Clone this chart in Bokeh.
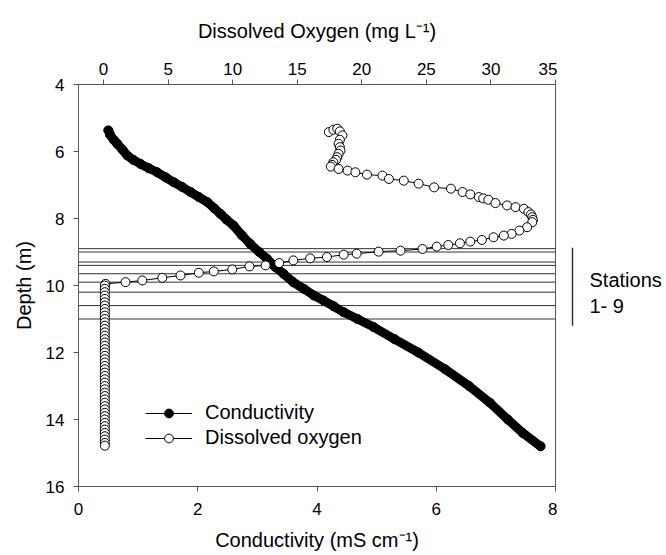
from bokeh.plotting import figure
from bokeh.models import (Range1d, LinearAxis, FixedTicker, Span, Legend,
                          LegendItem, ColumnDataSource)
from bokeh.layouts import row
from bokeh.embed import file_html
from bokeh.resources import INLINE
from bokeh.core.properties import value

# ---------------- data ----------------
cond_depth = [5.37, 5.50, 5.65, 5.77, 5.95, 6.12, 6.25, 6.37, 6.50, 6.62, 6.77,
              6.92, 7.06, 7.21, 7.36, 7.51, 7.70, 7.86, 8.03, 8.21, 8.50, 8.76,
              9.00, 9.20, 9.45, 9.65, 9.90, 10.10, 10.30, 10.45, 10.62, 10.80,
              11.00, 11.24, 11.60, 12.00, 12.50, 13.00, 13.50, 14.00, 14.40, 14.80]
cond_value = [0.50, 0.53, 0.59, 0.65, 0.74, 0.82, 0.92, 1.04, 1.18, 1.32, 1.46,
              1.60, 1.74, 1.88, 2.02, 2.16, 2.28, 2.38, 2.48, 2.60, 2.74, 2.88,
              3.03, 3.16, 3.30, 3.44, 3.60, 3.78, 3.95, 4.11, 4.28, 4.45,
              4.68, 4.95, 5.30, 5.70, 6.15, 6.55, 6.90, 7.20, 7.45, 7.75]

do_depth = [5.42, 5.35, 5.32, 5.40, 5.52, 5.65, 5.77, 5.87, 5.97, 6.07, 6.17,
            6.25, 6.32, 6.40, 6.45, 6.52, 6.57, 6.62, 6.69, 6.72, 6.82, 6.87,
            6.96, 7.07, 7.11, 7.21, 7.28, 7.36, 7.40, 7.44, 7.54, 7.61, 7.66,
            7.71, 7.81, 7.88, 7.96, 8.04, 8.11, 8.26, 8.36, 8.46, 8.51, 8.56,
            8.64, 8.69, 8.74, 8.79, 8.84, 8.91, 8.96, 8.99, 9.05, 9.08, 9.15,
            9.19, 9.25, 9.33, 9.40, 9.43, 9.52, 9.58, 9.62, 9.70, 9.77, 9.85,
            9.90, 9.95,
            10.0, 10.1, 10.2, 10.3, 10.4, 10.5, 10.6, 10.7, 10.8, 10.9,
            11.0, 11.1, 11.2, 11.3, 11.4, 11.5, 11.6, 11.7, 11.8, 11.9,
            12.0, 12.1, 12.2, 12.3, 12.4, 12.5, 12.6, 12.7, 12.8, 12.9,
            13.0, 13.1, 13.2, 13.3, 13.4, 13.5, 13.6, 13.7, 13.8, 13.9,
            14.0, 14.1, 14.2, 14.3, 14.4, 14.5, 14.6, 14.7, 14.78]
do_value = [17.45, 17.8, 18.1, 18.3, 18.5, 18.3, 18.2, 18.3, 18.35, 18.2, 18.1,
            18.0, 17.8, 17.7, 17.6, 18.2, 18.9, 19.5, 20.4, 21.6, 22.1, 23.25,
            24.4, 25.6, 26.9, 27.8, 28.4, 29.06, 29.4, 29.8, 30.35, 31.25, 31.9,
            32.55, 32.9, 33.1, 33.2, 33.25, 33.2, 32.8, 32.2, 31.6, 31.0, 30.2,
            29.3, 28.4, 27.6, 26.7, 25.8, 24.7, 23.0, 21.3, 19.6, 18.6, 17.3,
            16.0, 14.7, 13.6, 12.55, 11.3, 9.97, 8.54, 7.38, 5.96, 4.55, 3.0,
            1.7, 0.15,
            0.1, 0.1, 0.1, 0.1, 0.1, 0.1, 0.1, 0.1, 0.1, 0.1,
            0.1, 0.1, 0.1, 0.1, 0.1, 0.1, 0.1, 0.1, 0.1, 0.1,
            0.1, 0.1, 0.1, 0.1, 0.1, 0.1, 0.1, 0.1, 0.1, 0.1,
            0.1, 0.1, 0.1, 0.1, 0.1, 0.1, 0.1, 0.1, 0.1, 0.1,
            0.1, 0.1, 0.1, 0.1, 0.1, 0.1, 0.1, 0.1, 0.1]

station_depths = [8.9, 9.0, 9.3, 9.4, 9.65, 9.9, 10.2, 10.6, 11.0]
station_text = ["Stations", "1- 9"]

cond_ticks = [0, 2, 4, 6, 8]
do_ticks = [0, 5, 10, 15, 20, 25, 30, 35]
depth_ticks = [4, 6, 8, 10, 12, 14, 16]

FONT = "Liberation Sans"
AX = "#555555"

# ---------------- main figure ----------------
y_range = Range1d(16, 4)
p = figure(width=557, height=555, x_range=Range1d(0, 8), y_range=y_range,
           output_backend="svg", toolbar_location=None,
           min_border_left=78, min_border_right=2, min_border_top=84,
           min_border_bottom=69)
p.extra_x_ranges = {"do": Range1d(-1.94, 35)}
p.grid.visible = False
p.outline_line_color = AX
p.outline_line_width = 1
p.background_fill_color = "white"
p.border_fill_color = "white"

bottom_axis = p.below[0]
left_axis = p.left[0]
top_axis = LinearAxis(x_range_name="do")
p.add_layout(top_axis, "above")

bottom_axis.ticker = FixedTicker(ticks=cond_ticks)
bottom_axis.axis_label = "Conductivity (mS cm⁻¹)"
top_axis.ticker = FixedTicker(ticks=do_ticks)
top_axis.axis_label = "Dissolved Oxygen (mg L⁻¹)"
left_axis.ticker = FixedTicker(ticks=depth_ticks)
left_axis.axis_label = "Depth (m)"

for ax in (bottom_axis, left_axis, top_axis):
    ax.axis_line_color = AX
    ax.axis_line_width = 1
    ax.major_tick_line_color = AX
    ax.major_tick_out = 5
    ax.major_tick_in = 0
    ax.minor_tick_out = 0
    ax.minor_tick_in = 0
    ax.major_label_text_font = FONT
    ax.major_label_text_font_size = "17px"
    ax.major_label_text_color = "black"
    ax.axis_label_text_font = FONT
    ax.axis_label_text_font_size = "20px"
    ax.axis_label_text_font_style = "normal"
    ax.axis_label_text_color = "black"

top_axis.major_label_standoff = 5
top_axis.axis_label_standoff = 18
bottom_axis.major_label_standoff = 11
bottom_axis.axis_label_standoff = 11
left_axis.major_label_standoff = 9
left_axis.axis_label_standoff = 8

# station lines
for d in station_depths:
    p.add_layout(Span(location=d, dimension="width", line_color="#333333",
                      line_width=1, level="underlay"))

# conductivity: dense filled circles forming a thick band
src_c = ColumnDataSource(dict(x=cond_value, y=cond_depth))
p.line("x", "y", source=src_c, line_width=9, line_color="black",
       line_cap="round", line_join="round")
p.scatter("x", "y", source=src_c, size=9, fill_color="black", line_color="black")

# dissolved oxygen: open circles joined by a thin line
src_d = ColumnDataSource(dict(x=do_value, y=do_depth))
p.line("x", "y", source=src_d, x_range_name="do", line_width=1, line_color="black")
p.scatter("x", "y", source=src_d, x_range_name="do", size=9, fill_color="white",
          line_color="black", line_width=1)

# legend-only renderers (placed outside the visible ranges)
lc = p.line(x=[-10, -9], y=[20, 20], line_color="black", line_width=1)
sc = p.scatter(x=[-10], y=[20], size=9, fill_color="black", line_color="black")
ld = p.line(x=[-10, -9], y=[20, 20], line_color="black", line_width=1)
sd = p.scatter(x=[-10], y=[20], size=9, fill_color="white", line_color="black")

legend = Legend(items=[LegendItem(label="Conductivity", renderers=[lc, sc]),
                       LegendItem(label="Dissolved oxygen", renderers=[ld, sd])],
                location=(67, 37), glyph_width=47, glyph_height=22,
                label_height=22, label_standoff=13, padding=0, margin=0,
                spacing=2, border_line_alpha=0, background_fill_alpha=0,
                label_text_font=FONT, label_text_font_size="20px",
                label_text_color="black")
p.add_layout(legend)

# ---------------- side panel for station bracket ----------------
p2 = figure(width=109, height=555, x_range=Range1d(0, 109), y_range=y_range,
            output_backend="svg", toolbar_location=None,
            x_axis_location=None, y_axis_location=None,
            min_border_left=0, min_border_right=0, min_border_top=84,
            min_border_bottom=69)
p2.outline_line_color = None
p2.grid.visible = False
p2.border_fill_color = "white"

p2.segment(x0=[15], y0=[min(station_depths) - 0.03], x1=[15],
           y1=[max(station_depths) + 0.2], line_color="#333333", line_width=1.5)
p2.text(x=[32, 32], y=[9.85, 10.6], text=station_text,
        text_font=value(FONT), text_font_size="20px", text_color="black",
        text_baseline="alphabetic", text_align="left")

layout = row(p, p2, spacing=0)
open("out.html", "w").write(file_html(layout, INLINE))
